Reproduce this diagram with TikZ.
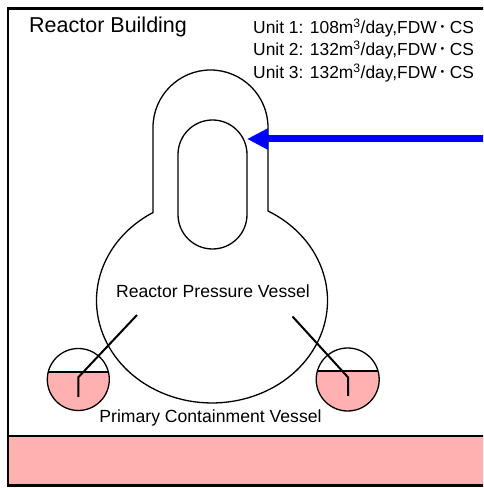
\documentclass[tikz,border=0pt]{standalone}
\usepackage{fontspec}
\setmainfont{Liberation Sans}
\newfontfamily\cjk{Noto Sans CJK JP}
\usetikzlibrary{arrows.meta}
\definecolor{pinkwater}{RGB}{255,176,176}
\definecolor{arrowblue}{RGB}{0,0,255}
\newcommand{\middot}{\hspace{2.2pt}{\cjk ･}\hspace{2.2pt}}
\tikzset{
  outline/.style={draw=black, line width=1.3pt},
  pipe/.style={draw=black, line width=2pt, line join=miter},
  frameline/.style={draw=black, line width=2.5pt},
  bigtext/.style={inner sep=0pt, font=\fontsize{21.5}{24}\selectfont},
  unittext/.style={inner sep=0pt, anchor=base west, font=\fontsize{17.4}{20}\selectfont},
  midtext/.style={inner sep=0pt, anchor=base, font=\fontsize{17.6}{20}\selectfont},
  feed/.style={draw=arrowblue, line width=7pt, -{Triangle[length=21pt,width=20pt]}},
}
\begin{document}
\begin{tikzpicture}[x=1pt,y=1pt]
\useasboundingbox (0,0) rectangle (483,488);
\clip (0,0) rectangle (483,488);
\fill[white] (0,0) rectangle (483,488);

% floor
\fill[pinkwater] (8,2.7) rectangle (495,52);
\draw[line width=2pt] (8,52) -- (495,52);
% building frame
\draw[frameline] (495,479.7) -- (8,479.7) -- (8,2.7) -- (495,2.7);

% suppression chambers
\begin{scope}
  \clip (78.3,108.5) circle[radius=31];
  \fill[pinkwater] (40,60) rectangle (120,116);
\end{scope}
\draw[outline] (78.3,108.5) circle[radius=31];
\draw[pipe] (48.2,116) -- (108.4,116);
\begin{scope}
  \clip (347.7,108.5) circle[radius=31.5];
  \fill[pinkwater] (310,60) rectangle (390,116.5);
\end{scope}
\draw[outline] (347.7,108.5) circle[radius=31.5];
\draw[pipe] (317,116.5) -- (378.4,116.5);

% containment outline
\draw[outline] (153,360.5) arc[start angle=180, end angle=0, radius=57.5]
  -- (268,277) arc[start angle=61, end angle=-239.3, x radius=115.5, y radius=102.4]
  -- cycle;
% reactor pressure vessel (inner capsule)
\draw[outline] (178,273.5) -- (178,333.5) arc[start angle=180, end angle=0, radius=34.5]
  -- (247,273.5) arc[start angle=0, end angle=-180, radius=34.5] -- cycle;

% vent pipes
\draw[pipe] (137,173) -- (78.3,110.7) -- (78.3,91);
\draw[pipe] (292.5,171.5) -- (348,110.7) -- (348,92);

% feed arrow
\coordinate (src) at (500,349);
\coordinate (rpvE) at (247,349);
\draw[feed] (src) -- (rpvE);

% texts
\node[bigtext, anchor=base west] (rb) at (29,455.3) {Reactor Building};
\node[unittext] (u1) at (253,454.7) {Unit 1: 108m\textsuperscript{3}/day,FDW\middot CS};
\node[unittext] (u2) at (253,432.2) {Unit 2: 132m\textsuperscript{3}/day,FDW\middot CS};
\node[unittext] (u3) at (253,409.7) {Unit 3: 132m\textsuperscript{3}/day,FDW\middot CS};
\node[midtext] (rpvl) at (213,190) {Reactor Pressure Vessel};
\node[midtext] (pcvl) at (210.5,65) {Primary Containment Vessel};
\end{tikzpicture}
\end{document}
